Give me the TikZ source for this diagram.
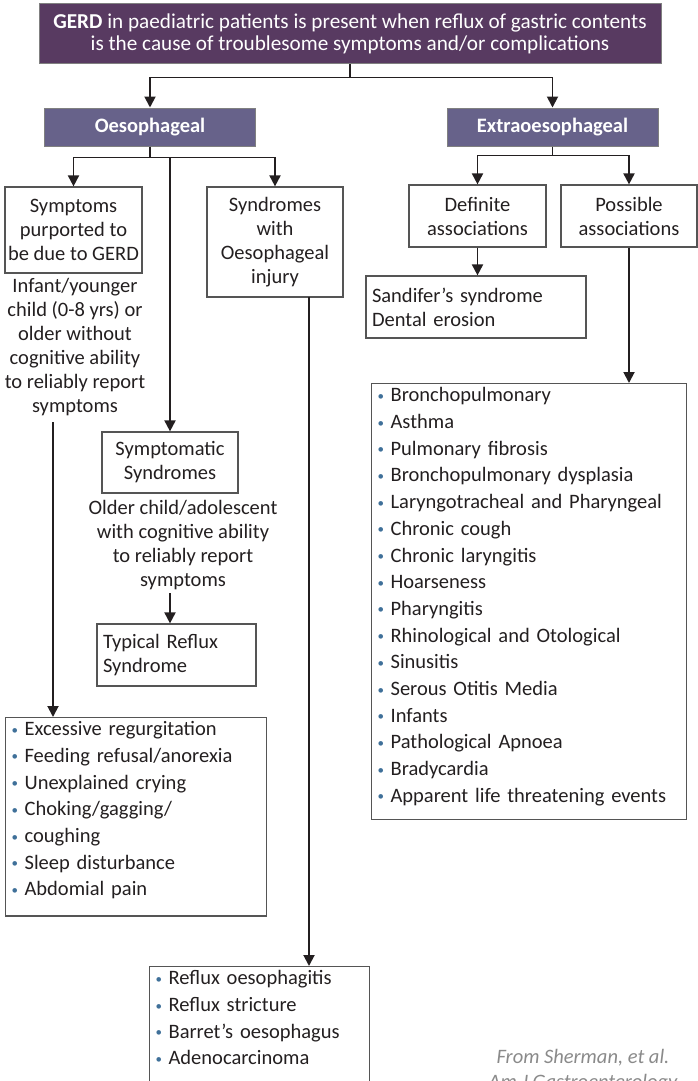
\documentclass[tikz,border=0pt]{standalone}
\usepackage{fontspec}
\setmainfont{Carlito}
\usetikzlibrary{positioning,arrows.meta}

\definecolor{gerdpurple}{HTML}{583A61}
\definecolor{headpurple}{HTML}{67628A}
\definecolor{bulblue}{HTML}{3F7099}
\definecolor{inkgrey}{HTML}{231F20}
\definecolor{boxgrey}{HTML}{555555}
\definecolor{citegrey}{HTML}{8A8A8A}
\newcommand{\bpt}{\makebox[13pt][l]{\raisebox{1.5pt}{\textcolor{bulblue}{\fontsize{13}{13}\selectfont\textbullet}}}}

\begin{document}
\begin{tikzpicture}[x=1pt,y=-1pt,
    every node/.style={font=\fontsize{20.5}{24}\selectfont, text=inkgrey},
    box/.style={draw=boxgrey, line width=1.2pt, inner sep=0pt, align=center},
    listbox/.style={box, align=left, inner xsep=6pt, inner ysep=4pt, anchor=north west,
        font=\fontsize{20.5}{26.7}\selectfont},
    headbox/.style={draw=gray, line width=1pt, fill=headpurple, text=white,
        font=\fontsize{20.5}{24}\selectfont\bfseries, minimum width=211pt, minimum height=38pt},
    arr/.style={-{Triangle[width=11pt,length=11pt]}, line width=1.9pt, draw=inkgrey},
    ]
    \useasboundingbox (0,0) rectangle (698,1081);

    % Nodes
    \node[draw=gray, line width=1pt, fill=gerdpurple, text=white, align=center,
        minimum width=622pt, minimum height=60pt, font=\fontsize{21.2}{22}\selectfont] (gerd) at (350,34)
        {\textbf{GERD} in paediatric patients is present when reflux of gastric contents\\
         is the cause of troublesome symptoms and/or complications};
    \node[headbox] (oeso) at (150,127) {Oesophageal};
    \node[headbox] (extra) at (552.5,127) {Extraoesophageal};

    \node[box, minimum width=137pt, minimum height=86pt] (symp) at (73.5,230)
        {Symptoms\\purported to\\be due to GERD};
    \node[align=center, inner sep=0pt] (infant) at (75,347)
        {Infant/younger\\child (0-8 yrs) or\\older without\\cognitive ability\\to reliably report\\symptoms};
    \node[box, minimum width=136pt, minimum height=110pt] (synd) at (275,242)
        {Syndromes\\with\\Oesophageal\\injury};
    \node[box, minimum width=136pt, minimum height=61pt] (sympsyn) at (170,462.5)
        {Symptomatic\\Syndromes};
    \node[align=center, inner sep=0pt] (older) at (183,545.5)
        {Older child/adolescent\\with cognitive ability\\to reliably report\\symptoms};
    \node[box, align=left, inner xsep=6pt, text width=147pt, minimum height=62pt] (typical) at (176.5,655)
        {Typical Reflux\\Syndrome};

    \node[listbox, text width=249pt] (excess) at (5,717)
        {\bpt Excessive regurgitation\\
         \bpt Feeding refusal/anorexia\\
         \bpt Unexplained crying\\
         \bpt Choking/gagging/\\
         \bpt coughing\\
         \bpt Sleep disturbance\\
         \bpt Abdomial pain\rule[-16pt]{0pt}{0pt}};
    \node[listbox, text width=208pt] (reflux) at (149,966)
        {\bpt Reflux oesophagitis\\
         \bpt Reflux stricture\\
         \bpt Barret's oesophagus\\
         \bpt Adenocarcinoma\rule[-40pt]{0pt}{0pt}};

    \node[box, minimum width=137pt, minimum height=62pt] (defin) at (477.5,216)
        {Definite\\associations};
    \node[box, minimum width=136pt, minimum height=62pt] (poss) at (629,216)
        {Possible\\associations};
    \node[box, align=left, inner xsep=6pt, text width=208pt, minimum height=62pt] (sandifer) at (476,307)
        {Sandifer's syndrome\\Dental erosion};
    \node[listbox, text width=303pt] (poslist) at (371,383)
        {\bpt Bronchopulmonary\\
         \bpt Asthma\\
         \bpt Pulmonary fibrosis\\
         \bpt Bronchopulmonary dysplasia\\
         \bpt Laryngotracheal and Pharyngeal\\
         \bpt Chronic cough\\
         \bpt Chronic laryngitis\\
         \bpt Hoarseness\\
         \bpt Pharyngitis\\
         \bpt Rhinological and Otological\\
         \bpt Sinusitis\\
         \bpt Serous Otitis Media\\
         \bpt Infants\\
         \bpt Pathological Apnoea\\
         \bpt Bradycardia\\
         \bpt Apparent life threatening events\rule[-13pt]{0pt}{0pt}};

    \node[align=center, text=citegrey, font=\fontsize{20.5}{25}\selectfont\itshape] (cite) at (583,1071)
        {From Sherman, et al.\\Am J Gastroenterology};

    \coordinate (infdrop) at (53,422);
    \coordinate (olddrop) at (170,593);
    \coordinate (synddrop) at (309,297);

    % Arrows
    \draw[arr] (gerd.south) -- ++(0,13) -| (oeso.north);
    \draw[arr] (gerd.south) -- ++(0,13) -| (extra.north);
    \draw[arr] (oeso.south) -- ++(0,11) -| (symp.north);
    \draw[arr] (oeso.south) -- ++(0,11) -| (synd.north);
    \draw[arr] (oeso.south) ++(0,11) -| (sympsyn.north);
    \draw[arr] (infdrop) -- (infdrop |- excess.north);
    \draw[arr] (olddrop) -- (olddrop |- typical.north);
    \draw[arr] (synddrop) -- (synddrop |- reflux.north);
    \draw[arr] (extra.south) -- ++(0,9) -| (defin.north);
    \draw[arr] (extra.south) -- ++(0,9) -| (poss.north);
    \draw[arr] (defin.south) -- (defin.south |- sandifer.north);
    \draw[arr] (poss.south) -- (poss.south |- poslist.north);
\end{tikzpicture}
\end{document}
